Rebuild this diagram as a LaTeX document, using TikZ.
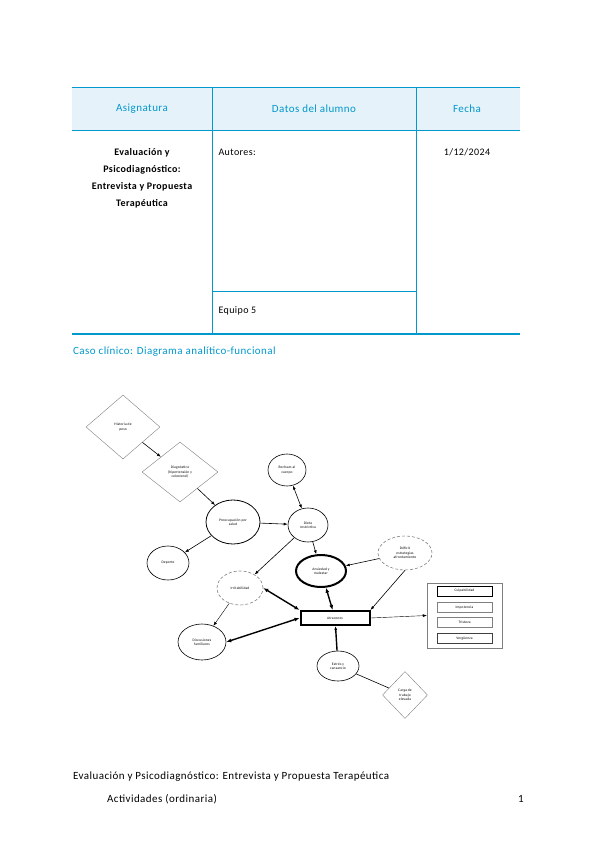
\documentclass[tikz,border=0pt]{standalone}
\usepackage{fontspec}
\setmainfont{Carlito}[LetterSpace=4]
\usetikzlibrary{shapes.geometric,arrows.meta,positioning}
\definecolor{unirblau}{RGB}{0,152,205}
\definecolor{kopfblau}{RGB}{230,242,249}

\begin{document}
\begin{tikzpicture}[x=1pt,y=-1pt,
    linie/.style={unirblau,line width=1pt},
    kopf/.style={unirblau,font=\fontsize{11}{13}\selectfont},
    zelle/.style={font=\fontsize{10}{12}\selectfont},
    fusstext/.style={font=\fontsize{11}{13}\selectfont,anchor=west,inner sep=0pt},
    knoten/.style={ellipse,draw,semithick,inner sep=0pt,align=center,font=\fontsize{3.6}{4.4}\selectfont},
    raute/.style={diamond,draw=gray,thin,inner sep=0pt,align=center,font=\fontsize{3.6}{4.4}\selectfont},
    kasten/.style={rectangle,draw=gray,thin,inner sep=0pt,minimum width=55pt,minimum height=10pt,font=\fontsize{3.6}{4.4}\selectfont},
    pfeil/.style={-{Latex[length=4pt,width=3pt]},semithick},
    doppel/.style={{Latex[length=5pt,width=4pt]}-{Latex[length=5pt,width=4pt]},line width=1.4pt}
  ]
  % Seite
  \useasboundingbox[fill=white] (0,0) rectangle (600,848);

  % Tabelle
  \fill[kopfblau] (72,88) rectangle (520,131);
  \draw[linie] (72,88) -- (520,88);
  \draw[linie] (72,131) -- (520,131);
  \draw[linie,line width=1.6pt] (72,334) -- (520,334);
  \draw[linie] (212,88) -- (212,334);
  \draw[linie] (416,88) -- (416,334);
  \draw[linie] (212,291) -- (416,291);

  \node[kopf] (asig) at (142,109) {Asignatura};
  \node[kopf] (datos) at (314,109) {Datos del alumno};
  \node[kopf] (fecha) at (467,109) {Fecha};

  \node[zelle,font=\bfseries\fontsize{10}{17}\selectfont,align=center,anchor=north] (titel) at (142,145)
    {Evaluación y\\Psicodiagnóstico:\\Entrevista y Propuesta\\Terapéutica};
  \node[zelle,anchor=west] (autores) at (215,152) {Autores:};
  \node[zelle] (datum) at (467,152) {1/12/2024};
  \node[zelle,anchor=west] (equipo) at (215,311) {Equipo 5};

  % Ueberschrift
  \node[kopf,anchor=west,inner sep=0pt] (caso) at (73,352) {Caso clínico: Diagrama analítico-funcional};

  % Diagramm
  \node[raute,minimum width=74pt,minimum height=64pt] (historia) at (123,427) {Historia de\\peso};
  \node[raute,minimum width=76pt,minimum height=60pt] (diagnostico) at (180,472) {Diagnóstico\\(hipertensión y\\colesterol)};
  \node[knoten,thick,minimum width=54pt,minimum height=44pt] (preocupacion) at (233,522) {Preocupación por\\salud};
  \node[knoten,minimum width=38pt,minimum height=32pt] (rechazo) at (287,470) {Rechazo al\\cuerpo};
  \node[knoten,minimum width=40pt,minimum height=34pt] (dieta) at (308,525) {Dieta\\restrictiva};
  \node[knoten,minimum width=42pt,minimum height=34pt] (deporte) at (168,563) {Deporte};
  \node[knoten,draw=gray,densely dashed,minimum width=46pt,minimum height=34pt] (ansiedad) at (240,588) {Irritabilidad};
  \node[knoten,minimum width=48pt,minimum height=36pt] (discusiones) at (202,642) {Discusiones\\familiares};
  \node[knoten,line width=2pt,minimum width=50pt,minimum height=32pt] (malestar) at (321,571) {Ansiedad y\\malestar};
  \node[knoten,draw=gray,densely dashed,minimum width=54pt,minimum height=34pt] (deficit) at (405,553) {Déficit\\estrategias\\afrontamiento};
  \node[rectangle,draw,line width=2pt,minimum width=69pt,minimum height=14pt,inner sep=0pt,font=\fontsize{3.6}{4.4}\selectfont] (atracones) at (335,618) {Atracones};
  \node[knoten,minimum width=42pt,minimum height=30pt] (estres) at (338,666) {Estrés y\\cansancio};
  \node[raute,minimum width=45pt,minimum height=47pt] (carga) at (405,695) {Carga de\\trabajo\\elevada};

  % Emociones
  \node[rectangle,draw=gray,thin,minimum width=75pt,minimum height=65pt] (gruppe) at (464.5,615.5) {};
  \node[kasten,draw=black] (culpa) at (464.5,591) {Culpabilidad};
  \node[kasten] (impotencia) at (464.5,607.5) {Impotencia};
  \node[kasten] (tristeza) at (464.5,622.5) {Tristeza};
  \node[kasten,draw=darkgray] (verguenza) at (464.5,638.5) {Vergüenza};

  % Verbindungen
  \draw[pfeil] (historia) -- (diagnostico);
  \draw[pfeil] (diagnostico) -- (preocupacion);
  \draw[pfeil] (preocupacion) -- (dieta);
  \draw[pfeil] (preocupacion) -- (deporte);
  \draw[{Latex[length=4pt,width=3pt]}-{Latex[length=4pt,width=3pt]},semithick] (rechazo) -- (dieta);
  \draw[pfeil] (dieta) -- (ansiedad);
  \draw[pfeil] (dieta) -- (malestar);
  \draw[pfeil,thin] (ansiedad) -- (discusiones);
  \draw[pfeil] (deficit) -- (malestar);
  \draw[pfeil] (deficit.south) -- (atracones.north east);
  \draw[doppel] (malestar) -- (atracones);
  \draw[doppel] (atracones.north west) -- (ansiedad.east);
  \draw[doppel] (atracones.west) -- (discusiones.east);
  \draw[pfeil,line width=1.4pt] (estres) -- (atracones);
  \draw[semithick] (carga) -- (estres);
  \draw[pfeil,thin] (atracones.east) -- (gruppe.west);

  % Fusszeile
  \node[fusstext] (fuss) at (73,777) {Evaluación y Psicodiagnóstico: Entrevista y Propuesta Terapéutica};
  \node[fusstext] (actividades) at (107,799) {Actividades (ordinaria)};
  \node[fusstext,anchor=center] (seite) at (521,799) {1};
\end{tikzpicture}
\end{document}
